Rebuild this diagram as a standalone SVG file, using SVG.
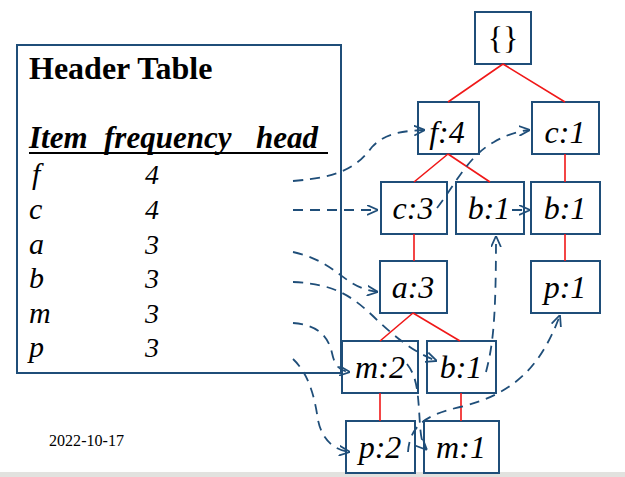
<svg xmlns="http://www.w3.org/2000/svg" width="625" height="477" viewBox="0 0 625 477">
<style>
.box{fill:#fff;stroke:#1f4e79;stroke-width:2}
.nt{font-family:"Liberation Serif","Times New Roman",serif;font-style:italic;font-size:32px;fill:#000;text-anchor:middle}
.tree{stroke:#f01818;stroke-width:1.6;fill:none}
.ptr{stroke:#1f4e79;stroke-width:1.8;fill:none;stroke-dasharray:10 7;marker-end:url(#arr)}
.ht{font-family:"Liberation Serif","Times New Roman",serif;fill:#000}
.it{font-style:italic;font-size:30px}
.dg{font-style:italic;font-size:28px}
</style>
<defs>
<marker id="arr" viewBox="0 0 10 10" refX="10" refY="5" markerWidth="11" markerHeight="11" markerUnits="userSpaceOnUse" orient="auto">
<path d="M0,0.5 L10,5 L0,9.5" fill="none" stroke="#1f4e79" stroke-width="1.6" stroke-dasharray="none"/>
</marker>
</defs>
<rect x="0" y="0" width="625" height="477" fill="#fff"/>
<rect x="0" y="472" width="625" height="5" fill="#e2e2df"/>

<g id="header-table">
<rect x="17" y="45" width="324" height="328" fill="#fff" stroke="#1f4e79" stroke-width="2"/>
<text class="ht" x="29" y="79" font-size="32" font-weight="bold">Header Table</text>
<g class="ht" font-size="31" font-weight="bold" font-style="italic">
<text x="29" y="148">Item</text>
<text x="104" y="148">frequency</text>
<text x="256" y="148">head</text>
</g>
<line x1="29" y1="153" x2="328" y2="153" stroke="#000" stroke-width="2"/>
<g class="ht it">
<text x="32" y="184">f</text>
<text x="29" y="219">c</text>
<text x="29" y="254">a</text>
<text x="29" y="288">b</text>
<text x="29" y="323">m</text>
<text x="29" y="357">p</text>
</g>
<g class="ht dg">
<text x="145" y="184">4</text>
<text x="145" y="219">4</text>
<text x="145" y="254">3</text>
<text x="145" y="288">3</text>
<text x="145" y="323">3</text>
<text x="145" y="357">3</text>
</g>
</g>

<text class="ht" x="49" y="446" font-size="17" textLength="75" lengthAdjust="spacingAndGlyphs">2022-10-17</text>

<g id="node-root"><rect class="box" x="475" y="12" width="56" height="52"/><text class="ht" x="503" y="49" font-size="32" text-anchor="middle">{}</text></g>
<g id="node-f4"><rect class="box" x="418" y="102" width="61" height="52"/><text class="nt" x="447" y="143">f:4</text></g>
<g id="node-c1"><rect class="box" x="532" y="102" width="67" height="52"/><text class="nt" x="565" y="143">c:1</text></g>
<g id="node-c3"><rect class="box" x="381" y="182" width="66" height="52"/><text class="nt" x="413" y="219">c:3</text></g>
<g id="node-b1a"><rect class="box" x="456" y="182" width="68" height="52"/><text class="nt" x="489" y="219">b:1</text></g>
<g id="node-b1b"><rect class="box" x="531" y="182" width="69" height="52"/><text class="nt" x="565" y="219">b:1</text></g>
<g id="node-a3"><rect class="box" x="380" y="261" width="67" height="52"/><text class="nt" x="413" y="298">a:3</text></g>
<g id="node-p1"><rect class="box" x="531" y="261" width="69" height="52"/><text class="nt" x="565" y="298">p:1</text></g>
<g id="node-m2"><rect class="box" x="342" y="341" width="76" height="52"/><text class="nt" x="380" y="378">m:2</text></g>
<g id="node-b1c"><rect class="box" x="427" y="341" width="69" height="52"/><text class="nt" x="461" y="378">b:1</text></g>
<g id="node-p2"><rect class="box" x="346" y="421" width="69" height="52"/><text class="nt" x="380" y="458">p:2</text></g>
<g id="node-m1"><rect class="box" x="424" y="421" width="75" height="52"/><text class="nt" x="461" y="458">m:1</text></g>

<g id="connectors">
<g class="tree">
<path d="M503,64 L448,102 M503,64 L565,102"/>
<path d="M448,154 L414,182 M448,154 L490,182"/>
<path d="M565,154 L565,182 M414,234 L414,261 M565,234 L565,261"/>
<path d="M413,313 L380,341 M413,313 L460,341"/>
<path d="M380,393 L380,421 M461,393 L461,421"/>
</g>
<g>
<path class="ptr" d="M293,181 C340,177 356,168 372,147 C386,132 405,131 425,130"/>
<path class="ptr" d="M293,210 L378,210"/>
<path class="ptr" d="M293,252 C325,259 337,274 352,283 C362,289 370,291 378,292"/>
<path class="ptr" d="M293,282 C335,284 352,296 375,318 C396,338 415,353 437,361"/>
<path class="ptr" d="M293,323 C318,325 328,336 332,353 C335,367 340,371 350,372"/>
<path class="ptr" d="M293,359 C310,375 315,400 318,420 C322,440 334,450 350,452"/>
<path class="ptr" d="M437,208 C455,185 468,156 494,142 C506,135 518,131 530,130"/>
<path class="ptr" d="M512,210 L530,210"/>
<path class="ptr" d="M486,372 C493,345 496,320 496,236"/>
<path class="ptr" d="M407,364 C418,378 418,395 420,425 C421,440 423,446 427,450"/>
<path class="ptr" d="M408,452 C410,425 426,415 460,407 C510,395 540,370 560,315"/>
</g>
</g>
</svg>
